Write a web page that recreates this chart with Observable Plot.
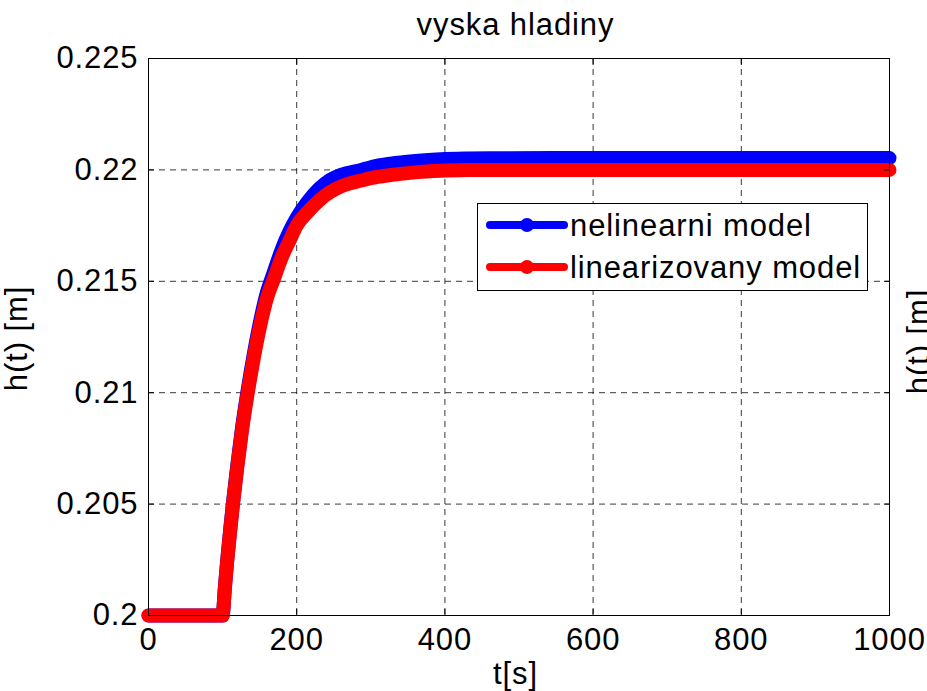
<!DOCTYPE html>
<html>
<head>
<meta charset="utf-8">
<script src="https://cdn.jsdelivr.net/npm/d3@7"></script>
<script src="https://cdn.jsdelivr.net/npm/@observablehq/plot@0.6"></script>
<style>
  html, body { margin: 0; padding: 0; background: #fff; }
  #chart svg { display: block; }
</style>
</head>
<body>
<div id="chart"></div>
<script>
// Tank level response h(t) to a step in inflow at t = 100 s
const tSec = [0, 100, 103, 106, 110, 114, 120, 126, 134, 142, 150, 160, 168, 180, 190, 200,
              215, 230, 245, 260, 287, 300, 327, 360, 394, 430, 470, 550, 700, 850, 1000];
const hNonlinear = [0.2000, 0.2000, 0.20122, 0.20240, 0.20378, 0.20506, 0.20680, 0.20838, 0.21015,
                    0.21172, 0.21310, 0.21452, 0.21530, 0.21645, 0.21722, 0.21785, 0.21858, 0.21915,
                    0.21955, 0.21978, 0.22000, 0.22012, 0.22028, 0.22040, 0.22048, 0.22051, 0.22052,
                    0.22053, 0.22053, 0.22053, 0.22053];
const hLinear = [0.2000, 0.2000, 0.20120, 0.20236, 0.20372, 0.20499, 0.20670, 0.20826, 0.21000,
                 0.21154, 0.21289, 0.21426, 0.21500, 0.21609, 0.21680, 0.21750, 0.21812, 0.21862,
                 0.21900, 0.21926, 0.21952, 0.21963, 0.21977, 0.21989, 0.21996, 0.21999, 0.22000,
                 0.22000, 0.22000, 0.22000, 0.22000];
const seriesNames = ["nelinearni model", "linearizovany model"];
const xTicks = [0, 200, 400, 600, 800, 1000];
const yTicks = [0.2, 0.205, 0.21, 0.215, 0.22, 0.225];
const yTickLabels = ["0.2", "0.205", "0.21", "0.215", "0.22", "0.225"];
const titleText = "vyska hladiny";
const xLabel = "t[s]";
const yLabel = "h(t) [m]";

const colors = ["#0000ff", "#ff0000"];
const font = "'Liberation Sans', Arial, Helvetica, sans-serif";
const fontSize = 31;
const spacing = "0.9px";

const nonlinear = tSec.map((t, i) => ({t, h: hNonlinear[i]}));
const linear = tSec.map((t, i) => ({t, h: hLinear[i]}));

const gridStyle = {stroke: "#000", strokeOpacity: 0.78, strokeWidth: 1, strokeDasharray: "6,5"};
const lineStyle = {x: "t", y: "h", strokeWidth: 14, strokeLinecap: "round", strokeLinejoin: "round", curve: "monotone-x"};

const chart = Plot.plot({
  width: 927,
  height: 691,
  marginLeft: 148,
  marginRight: 38,
  marginTop: 58,
  marginBottom: 76,
  style: {fontFamily: font, fontSize: `${fontSize}px`, letterSpacing: spacing, background: "#fff", color: "#000", overflow: "visible"},
  x: {domain: [0, 1000]},
  y: {domain: [0.2, 0.225]},
  marks: [
    Plot.gridX(xTicks, gridStyle),
    Plot.gridY(yTicks, gridStyle),
    Plot.line(nonlinear, {...lineStyle, stroke: colors[0]}),
    Plot.line(linear, {...lineStyle, stroke: colors[1]}),
    Plot.frame({stroke: "#000", strokeWidth: 1}),
    // inward tick marks on all four sides
    Plot.axisX(xTicks, {anchor: "bottom", tickSize: -6, tickFormat: () => "", label: null}),
    Plot.axisX(xTicks, {anchor: "top", tickSize: -6, tickFormat: () => "", label: null}),
    Plot.axisY(yTicks, {anchor: "left", tickSize: -6, tickFormat: () => "", label: null}),
    Plot.axisY(yTicks, {anchor: "right", tickSize: -6, tickFormat: () => "", label: null}),
    // tick labels
    Plot.axisX(xTicks, {anchor: "bottom", tickSize: 0, tickPadding: 12, tickFormat: d => String(d), label: null, fontSize}),
    Plot.axisY(yTicks, {anchor: "left", tickSize: 0, tickPadding: 10, tickFormat: (d, i) => yTickLabels[i], label: null, fontSize})
  ]
});

document.getElementById("chart").appendChild(chart);

const svg = d3.select(chart);
const L = 148, R = 927 - 38, T = 58, B = 691 - 76;
const midX = (L + R) / 2, midY = (T + B) / 2;

function label(sel) {
  return sel.style("font", `${fontSize}px ${font}`).style("letter-spacing", spacing).attr("fill", "#000");
}

// title and axis labels
label(svg.append("text")).attr("x", midX - 3).attr("y", 35).attr("text-anchor", "middle").text(titleText);
label(svg.append("text")).attr("x", midX - 3).attr("y", 684).attr("text-anchor", "middle").text(xLabel);
label(svg.append("text")).attr("transform", `translate(27,${midY + 2}) rotate(-90)`).attr("text-anchor", "middle").text(yLabel);
// neighbouring panel's y label, cut by the figure edge
label(svg.append("text")).attr("transform", `translate(929,${midY + 5}) rotate(-90)`).attr("text-anchor", "middle").text(yLabel);

// legend box
const lg = svg.append("g");
lg.append("rect").attr("x", 477.5).attr("y", 203.5).attr("width", 390).attr("height", 87)
  .attr("fill", "#fff").attr("stroke", "#000").attr("stroke-width", 1);
seriesNames.forEach((name, i) => {
  const cy = 225 + i * 42;
  lg.append("line").attr("x1", 490).attr("x2", 564).attr("y1", cy).attr("y2", cy)
    .attr("stroke", colors[i]).attr("stroke-width", 8).attr("stroke-linecap", "round");
  lg.append("circle").attr("cx", 527).attr("cy", cy).attr("r", 7).attr("fill", colors[i]);
  label(lg.append("text")).attr("x", 570).attr("y", cy + 11).attr("text-anchor", "start").text(name);
});
</script>
</body>
</html>
